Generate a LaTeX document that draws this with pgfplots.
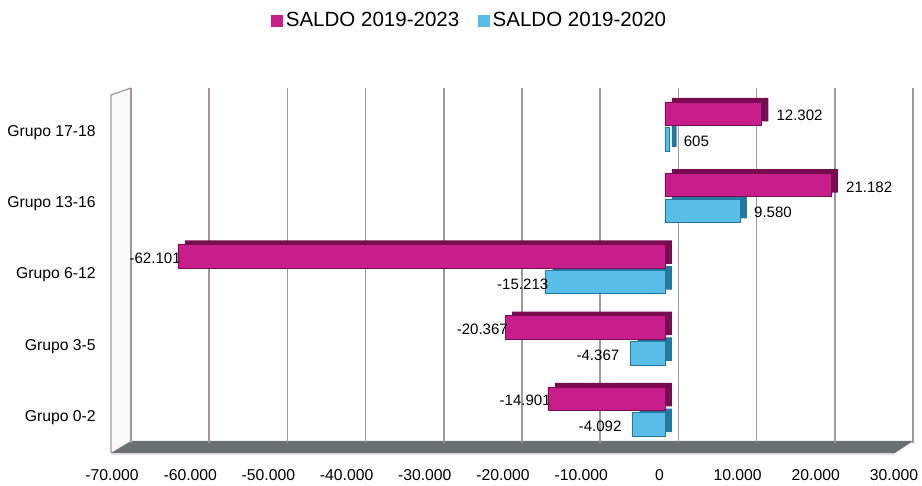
\documentclass[border=0pt]{standalone}
\usepackage{pgfplots}
\pgfplotsset{compat=1.18}
\usepackage{fontspec}
\setmainfont{Liberation Sans}
\definecolor{mag}{RGB}{200,30,140}
\definecolor{magd}{RGB}{120,12,80}
\definecolor{blu}{RGB}{88,190,232}
\definecolor{blud}{RGB}{35,120,160}
\definecolor{gridc}{RGB}{158,152,152}
\definecolor{floorc}{RGB}{105,112,112}
\begin{document}
\begin{tikzpicture}[x=0.75pt,y=0.75pt]
\useasboundingbox (0,0) rectangle (922,486);
% left wall and floor (decoration)
\fill[white!95!gray] (111,33) -- (111,391) -- (131,398) -- (131,45) -- cycle;
\draw[gridc, line width=0.9pt] (111,33) -- (111,391) -- (131,398);
\fill[floorc] (111,33) -- (131,45) -- (913,45) -- (895,33) -- cycle;
\draw[gray!25, line width=0.8pt] (111,32) -- (895,32);
\begin{axis}[
  at={(98.25pt,32.25pt)}, anchor=south west,
  scale only axis,
  width=586.5pt, height=266.25pt,
  xmin=-68087, xmax=31659,
  ymin=-0.442, ymax=4.54,
  xbar, bar width=0.33,
  xtick={-68087,-58112,-48138,-38163,-28189,-18214,-8240,1735,11710,21684,31659},
  xticklabels={-70.000,-60.000,-50.000,-40.000,-30.000,-20.000,-10.000,0,10.000,20.000,30.000},
  ytick={0,1,2,3,4},
  yticklabels={Grupo 0-2,Grupo 3-5,Grupo 6-12,Grupo 13-16,Grupo 17-18},
  xmajorgrids,
  major grid style={gridc, line width=1.1pt},
  axis line style={draw=none},
  major tick length=0pt,
  tick label style={font=\fontsize{11.8}{14}\selectfont},
  xticklabel style={anchor=base, inner sep=0pt, yshift=-27.75pt, xshift=-14.25pt},
  yticklabel style={anchor=east, inner sep=0pt, xshift=-26.25pt, yshift=-4.5pt},
  clip=false,
  legend style={at={(axis description cs:0.4335,1.19)}, anchor=center, draw=none, fill=none,
    legend columns=2, font=\fontsize{15.4}{18}\selectfont,
    /tikz/every even column/.append style={column sep=12pt}},
  legend image code/.code={\fill[#1] (0pt,-4.5pt) rectangle (9pt,4.5pt);},
  nodes near coords,
  point meta=explicit symbolic,
  every node near coord/.append style={font=\fontsize{11.3}{13}\selectfont, inner sep=0pt, text=black, yshift=-1.5pt},
]
\addlegendimage{fill=mag, draw=none}
\addlegendentry{SALDO 2019-2023}
\addlegendimage{fill=blu, draw=none}
\addlegendentry{SALDO 2019-2020}
% SALDO 2019-2020 (blue), depth face
\addplot[forget plot, bar shift=-0.18, fill=blud, draw=none, xshift=5.25pt, yshift=3pt, nodes near coords={}]
  coordinates {(-4092,0) (-4367,1) (-15213,2) (9580,3) (605,4)};
% blue front faces
\addplot[forget plot, bar shift=-0.18, fill=blu, draw=blud, line width=0.4pt,
  every node near coord/.append style={anchor=east, xshift=2.25pt}]
  coordinates {(-15213,2) [-15.213]};
\addplot[forget plot, bar shift=-0.18, fill=blu, draw=blud, line width=0.4pt,
  every node near coord/.append style={anchor=east, xshift=-8.25pt}]
  coordinates {(-4092,0) [-4.092] (-4367,1) [-4.367]};
\addplot[forget plot, bar shift=-0.18, fill=blu, draw=blud, line width=0.4pt,
  every node near coord/.append style={anchor=west, xshift=10.5pt}]
  coordinates {(9580,3) [9.580] (605,4) [605]};
% SALDO 2019-2023 (magenta), depth face
\addplot[forget plot, bar shift=0.18, fill=magd, draw=none, xshift=5.25pt, yshift=3pt, nodes near coords={}]
  coordinates {(-14901,0) (-20367,1) (-62101,2) (21182,3) (12302,4)};
% magenta front faces
\addplot[forget plot, bar shift=0.18, fill=mag, draw=magd, line width=0.4pt,
  every node near coord/.append style={anchor=east, xshift=2.25pt}]
  coordinates {(-14901,0) [-14.901] (-20367,1) [-20.367] (-62101,2) [-62.101]};
\addplot[forget plot, bar shift=0.18, fill=mag, draw=magd, line width=0.4pt,
  every node near coord/.append style={anchor=west, xshift=11.25pt}]
  coordinates {(21182,3) [21.182] (12302,4) [12.302]};
\end{axis}
\end{tikzpicture}
\end{document}
